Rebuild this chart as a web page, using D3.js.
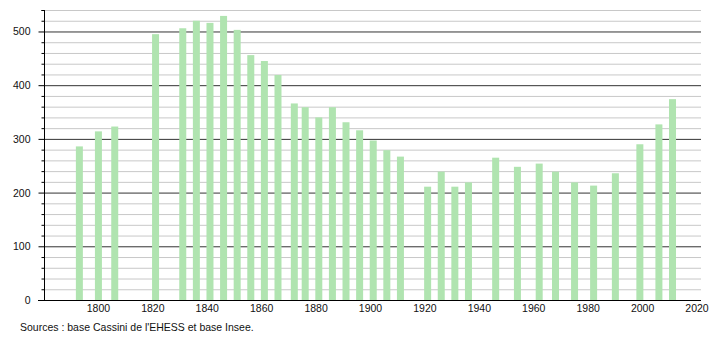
<!DOCTYPE html>
<html>
<head>
<meta charset="utf-8">
<script src="https://cdn.jsdelivr.net/npm/d3@7"></script>
<style>
  body { margin: 0; background: #fff; }
  svg text { font-family: "Liberation Sans", Arial, sans-serif; fill: #111; }
</style>
</head>
<body>
<svg id="chart" width="710" height="340"></svg>
<script>
// census years and population
var years = [1793, 1800, 1806, 1821, 1831, 1836, 1841, 1846, 1851, 1856, 1861, 1866,
    1872, 1876, 1881, 1886, 1891, 1896, 1901, 1906, 1911, 1921, 1926, 1931, 1936,
    1946, 1954, 1962, 1968, 1975, 1982, 1990, 1999, 2006, 2011];
var population = [286, 314, 323, 495, 506, 520, 516, 529, 503, 456, 445, 419,
    366, 359, 340, 359, 331, 316, 297, 279, 267, 211, 239, 211, 219,
    265, 248, 254, 239, 219, 213, 236, 290, 327, 374];
var xTicks = [1800, 1820, 1840, 1860, 1880, 1900, 1920, 1940, 1960, 1980, 2000, 2020];
var yTicks = [0, 100, 200, 300, 400, 500];
var source = "Sources : base Cassini de l'EHESS et base Insee.";

var svg = d3.select('#chart'),
    left = 44, right = 701, bottom = 300;

var x = d3.scaleLinear().domain([1780, 2020]).range([left, 697]);
var y = d3.scaleLinear().domain([0, 540]).range([bottom, 10]);

// minor grid every 20
var minor = d3.range(20, 541, 20).filter(function (v) { return v % 100 !== 0; });
svg.append('g').selectAll('line')
    .data(minor)
    .enter()
    .append('line')
    .attr('x1', left).attr('x2', right)
    .attr('y1', function (d) { return y(d) + 0.5; })
    .attr('y2', function (d) { return y(d) + 0.5; })
    .attr('stroke', '#c8c8c8');

svg.append('g').selectAll('line')
    .data(yTicks.slice(1))
    .enter()
    .append('line')
    .attr('x1', left).attr('x2', right)
    .attr('y1', function (d) { return y(d) + 0.5; })
    .attr('y2', function (d) { return y(d) + 0.5; })
    .attr('stroke', '#333');

// bars
svg.append('g').selectAll('rect')
    .data(years)
    .enter()
    .append('rect')
    .attr('x', function (d) { return x(d) - 3.5; })
    .attr('y', function (d, i) { return y(population[i]); })
    .attr('width', 7)
    .attr('height', function (d, i) { return bottom - y(population[i]); })
    .attr('fill', '#b0e4b0');

// y axis with major and minor ticks
var yAxis = svg.append('g').attr('transform', 'translate(' + (left + 0.5) + ',0)');
yAxis.append('line')
    .attr('y1', y(540)).attr('y2', bottom)
    .attr('stroke', '#000');
yAxis.selectAll('line.minor')
    .data(minor.concat([540]))
    .enter()
    .append('line')
    .attr('class', 'minor')
    .attr('x1', -3).attr('x2', 0)
    .attr('y1', function (d) { return y(d) + 0.5; })
    .attr('y2', function (d) { return y(d) + 0.5; })
    .attr('stroke', '#000');
yAxis.selectAll('line.major')
    .data(yTicks)
    .enter()
    .append('line')
    .attr('class', 'major')
    .attr('x1', -6).attr('x2', 0)
    .attr('y1', function (d) { return y(d) + 0.5; })
    .attr('y2', function (d) { return y(d) + 0.5; })
    .attr('stroke', '#000');
yAxis.selectAll('text')
    .data(yTicks)
    .enter()
    .append('text')
    .attr('x', -14)
    .attr('y', function (d) { return y(d) + 4; })
    .attr('text-anchor', 'end')
    .attr('font-size', 10.5)
    .text(function (d) { return d; });

// x axis
svg.append('line')
    .attr('x1', left - 6).attr('x2', right)
    .attr('y1', bottom + 0.5).attr('y2', bottom + 0.5)
    .attr('stroke', '#000');
svg.append('g').selectAll('text')
    .data(xTicks)
    .enter()
    .append('text')
    .attr('x', function (d) { return x(d); })
    .attr('y', 312)
    .attr('text-anchor', 'middle')
    .attr('font-size', 10.5)
    .text(function (d) { return d; });

svg.append('text')
    .attr('x', 20)
    .attr('y', 331)
    .attr('font-size', 10.5)
    .text(source);
</script>
</body>
</html>
